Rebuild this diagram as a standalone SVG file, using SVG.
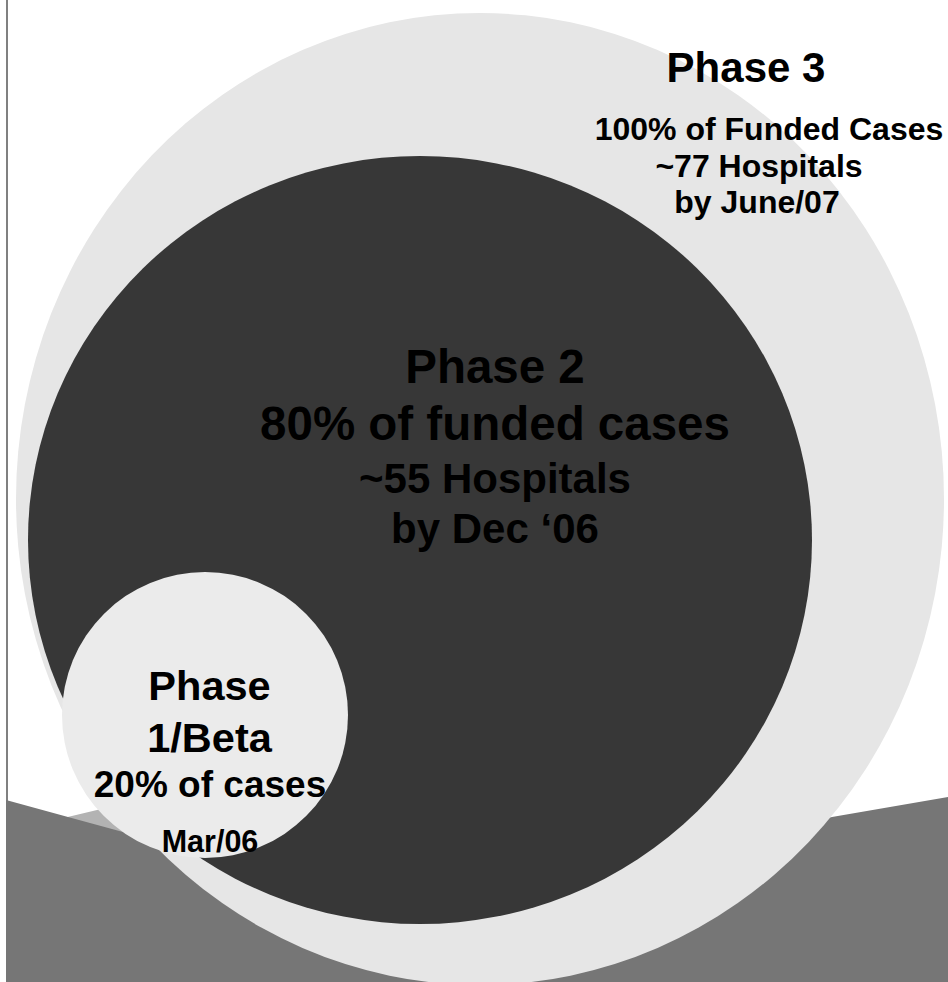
<svg xmlns="http://www.w3.org/2000/svg" width="948" height="982" viewBox="0 0 948 982">
  <style>
    .t { font-family: "Liberation Sans", Arial, sans-serif; font-weight: bold; fill: #000000; text-anchor: middle; }
  </style>
  <rect x="0" y="0" width="948" height="982" fill="#ffffff"/>
  <g id="background">
    <line x1="7" y1="0" x2="7" y2="982" stroke="#808080" stroke-width="2"/>
    <polygon points="30,826 97,810 140,800 200,800 200,870 30,870" fill="#b3b3b3"/>
    <polygon points="6,800 68,817 200,853 480,900 832,817 948,797 948,982 6,982" fill="#767676"/>
  </g>
  <g id="phase3">
    <ellipse cx="480" cy="499" rx="464" ry="486" fill="#e6e6e6"/>
    <text class="t" x="746" y="82" font-size="42">Phase 3</text>
    <text class="t" x="769" y="140" font-size="32">100% of Funded Cases</text>
    <text class="t" x="759" y="177" font-size="32">~77 Hospitals</text>
    <text class="t" x="757" y="213" font-size="32">by June/07</text>
  </g>
  <g id="phase2">
    <ellipse cx="420" cy="540" rx="392" ry="384" fill="#373737"/>
    <text class="t" x="495" y="383" font-size="47.5">Phase 2</text>
    <text class="t" x="495" y="440" font-size="47.5">80% of funded cases</text>
    <text class="t" x="495" y="493" font-size="42">~55 Hospitals</text>
    <text class="t" x="495" y="543" font-size="42">by Dec ‘06</text>
  </g>
  <g id="phase1">
    <circle cx="205" cy="715" r="143" fill="#ebebeb"/>
    <text class="t" x="209.5" y="700" font-size="41.5">Phase</text>
    <text class="t" x="209.5" y="752" font-size="41.5">1/Beta</text>
    <text class="t" x="210" y="797" font-size="37">20% of cases</text>
    <text class="t" x="210" y="852" font-size="30.5">Mar/06</text>
  </g>
  <g id="connectors"/>
</svg>
